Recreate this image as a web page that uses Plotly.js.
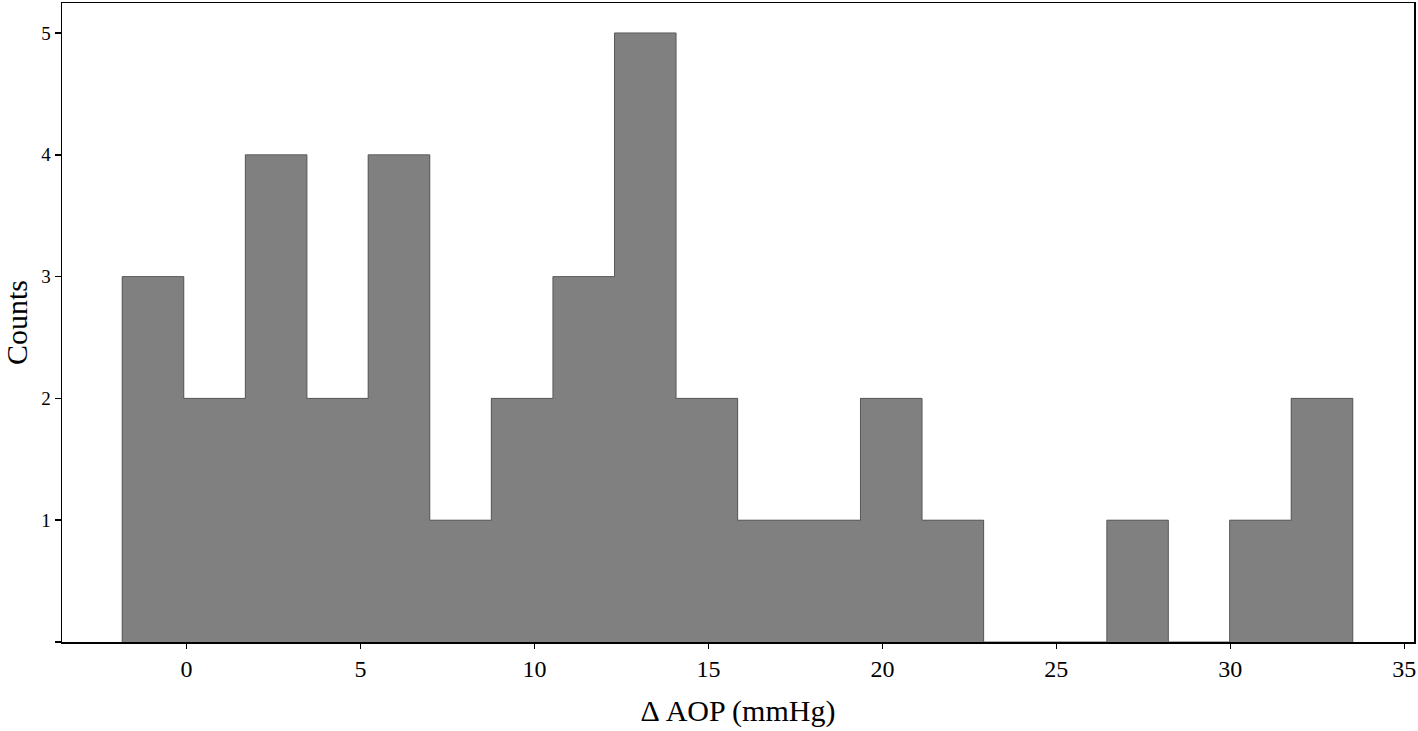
<!DOCTYPE html>
<html>
<head>
<meta charset="utf-8">
<script src="https://cdn.plot.ly/plotly-3.0.1.min.js"></script>
<style>html,body{margin:0;padding:0;background:#fff;}#chart{width:1418px;height:731px;}</style>
</head>
<body>
<div id="chart"></div>
<script>
// Histogram bin edges (mmHg) and counts
var binEdges = [-1.85, -0.08, 1.69, 3.46, 5.22, 6.99, 8.76, 10.53, 12.30, 14.07, 15.84,
                17.60, 19.37, 21.14, 22.91, 24.68, 26.45, 28.22, 29.98, 31.75, 33.52];
var counts = [3, 2, 4, 2, 4, 1, 2, 3, 5, 2, 1, 1, 2, 1, 0, 0, 1, 0, 1, 2];
var xTickVals = [0, 5, 10, 15, 20, 25, 30, 35];
var xTickText = ['0', '5', '10', '15', '20', '25', '30', '35'];
var yTickVals = [0, 1, 2, 3, 4, 5];
var yTickText = ['', '1', '2', '3', '4', '5'];

var centers = [], widths = [];
for (var i = 0; i < counts.length; i++) {
  centers.push((binEdges[i] + binEdges[i + 1]) / 2);
  widths.push(binEdges[i + 1] - binEdges[i]);
}

// step outline around the whole histogram (no internal dividers)
var stepX = [binEdges[0]], stepY = [0];
for (var j = 0; j < counts.length; j++) {
  stepX.push(binEdges[j]); stepY.push(counts[j]);
}
stepX.push(binEdges[counts.length]); stepY.push(counts[counts.length - 1]);
stepX.push(binEdges[counts.length]); stepY.push(0);

var font = 'Liberation Serif, Times New Roman, serif';

var bars = {
  type: 'bar',
  x: centers,
  y: counts,
  width: widths,
  marker: { color: '#808080', line: { width: 0 } },
  hoverinfo: 'x+y'
};

var outline = {
  type: 'scatter',
  mode: 'lines',
  x: stepX,
  y: stepY,
  line: { shape: 'hv', color: '#5a5a5a', width: 1 },
  hoverinfo: 'skip'
};

var layout = {
  width: 1418,
  height: 731,
  margin: { l: 62, r: 4, t: 3, b: 89 },
  paper_bgcolor: '#ffffff',
  plot_bgcolor: '#ffffff',
  showlegend: false,
  bargap: 0,
  font: { family: font, color: '#000' },
  xaxis: {
    range: [-3.58, 35.28],
    tickmode: 'array',
    tickvals: xTickVals,
    ticktext: xTickText,
    ticks: 'outside',
    ticklen: 5,
    tickwidth: 1.5,
    tickcolor: '#000',
    showline: true,
    linecolor: '#000',
    linewidth: 1.5,
    mirror: true,
    showgrid: false,
    zeroline: false,
    tickfont: { family: font, size: 24, color: '#000' },
    title: { text: '\u0394 AOP (mmHg)', font: { family: font, size: 30, color: '#000' }, standoff: 18 },
    automargin: false
  },
  yaxis: {
    range: [0, 5.246],
    tickmode: 'array',
    tickvals: yTickVals,
    ticktext: yTickText,
    ticks: 'outside',
    ticklen: 6,
    tickwidth: 1.5,
    tickcolor: '#000',
    showline: true,
    linecolor: '#000',
    linewidth: 1.5,
    mirror: true,
    showgrid: false,
    zeroline: false,
    tickfont: { family: font, size: 19, color: '#000' },
    title: { text: 'Counts', font: { family: font, size: 30, color: '#000' }, standoff: 10 },
    automargin: false
  }
};

Plotly.newPlot('chart', [bars, outline], layout, { displayModeBar: false, staticPlot: true });
</script>
</body>
</html>
